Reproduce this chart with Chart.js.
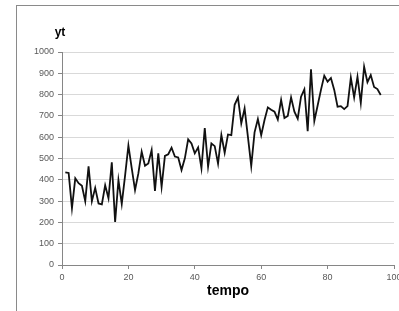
<!DOCTYPE html>
<html>
<head>
<meta charset="utf-8">
<script src="https://cdn.jsdelivr.net/npm/chart.js@4/dist/chart.umd.min.js"></script>
<style>
  html, body { margin: 0; padding: 0; background: #fff; overflow: hidden; }
  #wrap { position: relative; width: 399px; height: 311px; }
  #frame { position: absolute; left: 16px; top: 5px; width: 500px; height: 500px;
           border-left: 1px solid #8a8a8a; border-top: 1px solid #8a8a8a; pointer-events: none; }
  canvas { position: absolute; left: 0; top: 0; }
</style>
</head>
<body>
<div id="wrap">
  <canvas id="chart" width="399" height="311"></canvas>
  <div id="frame"></div>
</div>
<script>
const tempo = [
  1, 2, 3, 4, 5, 6, 7, 8, 9, 10, 11, 12, 13, 14, 15, 16, 17, 18, 19, 20,
  21, 22, 23, 24, 25, 26, 27, 28, 29, 30, 31, 32, 33, 34, 35, 36, 37, 38, 39, 40,
  41, 42, 43, 44, 45, 46, 47, 48, 49, 50, 51, 52, 53, 54, 55, 56, 57, 58, 59, 60,
  61, 62, 63, 64, 65, 66, 67, 68, 69, 70, 71, 72, 73, 74, 75, 76, 77, 78, 79, 80,
  81, 82, 83, 84, 85, 86, 87, 88, 89, 90, 91, 92, 93, 94, 95, 96
]
const yt = [
  435, 432, 267, 407, 384, 372, 300, 463, 300, 362, 289, 285, 374, 313, 482, 202, 399, 287, 420, 561,
  455, 352, 430, 532, 466, 477, 540, 348, 524, 367, 512, 520, 551, 509, 505, 446, 501, 590, 571, 524,
  552, 454, 643, 462, 571, 558, 476, 610, 527, 613, 610, 752, 786, 665, 735, 602, 465, 623, 685, 610,
  681, 740, 729, 720, 683, 775, 690, 700, 787, 720, 687, 790, 825, 628, 919, 676, 749, 822, 889, 861,
  878, 822, 743, 746, 732, 746, 880, 787, 884, 761, 931, 858, 892, 836, 826, 798
]
const xTicks = [0, 20, 40, 60, 80, 100]
const yTicks = [0, 100, 200, 300, 400, 500, 600, 700, 800, 900, 1000]

const font = '"Liberation Sans", Arial, sans-serif'
const axisGray = '#868686'

// the "yt" label sits above the y axis, not rotated
const ytLabel = {
  id: 'ytLabel',
  afterDraw(chart) {
    const ctx = chart.ctx
    ctx.save()
    ctx.font = 'bold 12px ' + font
    ctx.fillStyle = '#000'
    ctx.textAlign = 'center'
    ctx.textBaseline = 'middle'
    ctx.fillText('yt', 60, 33)
    ctx.restore()
  }
}

new Chart(document.getElementById('chart'), {
  type: 'line',
  data: {
    datasets: [{
      label: 'yt',
      data: tempo.map((t, i) => ({ x: t, y: yt[i] })),
      borderColor: '#111',
      borderWidth: 1.8,
      pointRadius: 0,
      tension: 0,
      fill: false
    }]
  },
  options: {
    responsive: false,
    animation: false,
    layout: { padding: { left: 0, right: 5, top: 52, bottom: 0 } },
    plugins: { legend: { display: false }, tooltip: { enabled: false } },
    scales: {
      x: {
        type: 'linear',
        min: 0, max: 100,
        afterBuildTicks(s) { s.ticks = xTicks.map(v => ({ value: v })) },
        afterFit(s) { s.height = 46; s.paddingLeft = 0; s.paddingRight = 0 },
        ticks: { padding: 3, color: '#595959', font: { family: font, size: 9 }, callback: v => String(v) },
        grid: { drawOnChartArea: false, tickLength: 4, tickColor: axisGray },
        border: { color: axisGray },
        title: {
          display: true, text: 'tempo', color: '#000',
          font: { family: font, size: 14, weight: 'bold' },
          padding: { top: 0, bottom: 11 }
        }
      },
      y: {
        min: 0, max: 1000,
        afterBuildTicks(s) { s.ticks = yTicks.map(v => ({ value: v })) },
        afterFit(s) { s.width = 62; s.paddingTop = 0; s.paddingBottom = 0 },
        ticks: { padding: 4, color: '#595959', font: { family: font, size: 9 }, callback: v => String(v) },
        grid: { color: '#d9d9d9', tickLength: 4, tickColor: axisGray },
        border: { color: axisGray }
      }
    }
  },
  plugins: [ytLabel]
})
</script>
</body>
</html>
